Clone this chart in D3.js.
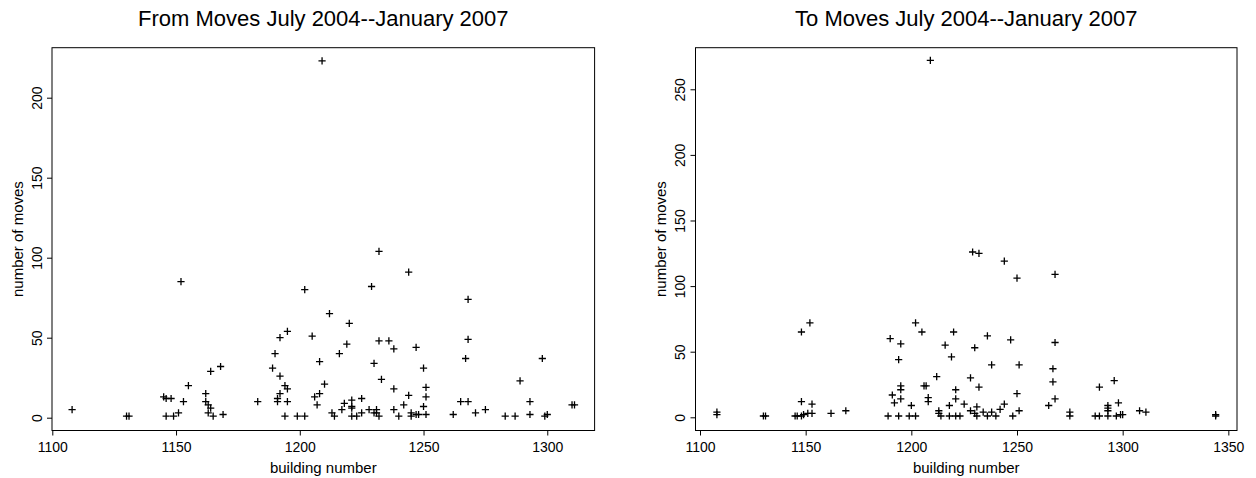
<!DOCTYPE html>
<html>
<head>
<meta charset="utf-8">
<script src="https://cdn.jsdelivr.net/npm/d3@7"></script>
<style>
  html, body { margin: 0; padding: 0; background: #fff; }
  svg { display: block; font-family: "Liberation Sans", Arial, Helvetica, sans-serif; }
</style>
</head>
<body>
<svg id="chart" width="1256" height="478"></svg>
<script>
// ---------- data ----------
const fromTitle = "From Moves July 2004--January 2007";
const toTitle = "To Moves July 2004--January 2007";
const xLabel = "building number";
const yLabel = "number of moves";

const fromBuilding = [1108,1130,1131,1145,1146,1148,1146,1149,1151,1152,1153,1155,1162,1162,1163,1164,1163,1165,1164,1168,1169,1183,1189,1190,1192,1195,1192,1194,1195,1192,1191,1191,1195,1194,1199,1202,1202,1205,1208,1206,1207,1208,1209,1212,1220,1219,1232,1236,1238,1247,1216,1230,1250,1233,1210,1238,1251,1244,1251,1218,1221,1225,1221,1221,1217,1213,1214,1221,1223,1225,1228,1231,1231,1230,1232,1238,1240,1242,1245,1245,1247,1248,1250,1251,1262,1265,1268,1267,1268,1268,1271,1275,1283,1287,1289,1293,1293,1298,1299,1300,1310,1311,1232,1244,1229];
const fromMoves    = [5,1,1,13,12,12,1,1,3,85,10,20,15,10,8,6,3,1,29,32,2,10,31,40,50,54,26,20,18,15,12,10,10,1,1,1,80,51,35,13,8,15,223,65,59,46,48,48,43,44,40,34,31,24,21,18,19,14,13,9,11,12,7,6,5,3,1,1,1,3,5,5,3,3,1,5,1,8,3,1,2,2,7,2,2,10,10,37,49,74,3,5,1,1,23,10,2,37,1,2,8,8,104,91,82];

const toBuilding = [1108,1108,1130,1131,1145,1146,1148,1149,1148,1152,1148,1153,1151,1153,1162,1169,1189,1190,1195,1194,1191,1192,1195,1195,1195,1194,1199,1202,1200,1202,1205,1206,1207,1208,1208,1212,1213,1213,1214,1216,1209,1229,1232,1244,1250,1268,1220,1219,1230,1236,1247,1268,1238,1251,1267,1267,1268,1265,1228,1232,1221,1221,1250,1218,1225,1244,1242,1218,1221,1223,1228,1231,1230,1231,1234,1236,1238,1240,1248,1251,1275,1275,1287,1289,1289,1296,1293,1293,1293,1293,1298,1297,1299,1300,1308,1311,1344,1344];
const toMoves    = [2,4,1,1,1,1,1,2,65,72,12,10,3,3,3,5,1,60,56,44,17,11,24,21,14,1,1,1,9,72,65,24,24,15,12,31,5,3,1,55,272,126,125,119,106,109,65,46,53,62,59,57,40,40,37,27,14,9,30,23,21,14,18,9,10,10,6,1,1,1,5,8,3,1,4,1,4,1,1,5,4,1,1,1,23,28,9,7,5,1,11,1,2,2,5,4,1,2];

const fromXTicks = [1100, 1150, 1200, 1250, 1300];
const fromYTicks = [0, 50, 100, 150, 200];
const toXTicks = [1100, 1150, 1200, 1250, 1300, 1350];
const toYTicks = [0, 50, 100, 150, 200, 250];

// ---------- drawing ----------
const svg = d3.select("#chart");

function panel(cfg) {
  const { xs, ys, bx, by, xTicks, yTicks, title } = cfg;
  const [left, right] = [cfg.x.range()[0], cfg.x.range()[1]];
  const [bottom, top] = [cfg.y.range()[0], cfg.y.range()[1]];
  const x = cfg.x, y = cfg.y;
  const g = svg.append("g");

  // title
  g.append("text")
    .attr("x", (left + right) / 2)
    .attr("y", 26)
    .attr("text-anchor", "middle")
    .attr("font-size", 22)
    .attr("fill", "#000")
    .text(title);

  // x axis
  const xa = g.append("g")
    .attr("transform", `translate(0,${bottom})`)
    .call(d3.axisBottom(x).tickValues(xTicks).tickSize(5).tickFormat(d3.format("d")));
  xa.select(".domain").remove();
  xa.selectAll("line").attr("stroke", "#000");
  xa.selectAll("text")
    .attr("y", 21).attr("dy", null)
    .attr("font-size", 14).attr("fill", "#000");

  // y axis
  const ya = g.append("g")
    .attr("transform", `translate(${left},0)`)
    .call(d3.axisLeft(y).tickValues(yTicks).tickSize(5).tickFormat(d3.format("d")));
  ya.select(".domain").remove();
  ya.selectAll("line").attr("stroke", "#000");
  ya.selectAll("text")
    .attr("x", 0).attr("y", -10.5).attr("dy", null)
    .attr("transform", "rotate(-90)")
    .attr("text-anchor", "middle")
    .attr("font-size", 14).attr("fill", "#000");

  // frame
  g.append("rect")
    .attr("x", left).attr("y", top)
    .attr("width", right - left).attr("height", bottom - top)
    .attr("fill", "none").attr("stroke", "#000").attr("stroke-width", 1);

  // axis labels
  g.append("text")
    .attr("x", (left + right) / 2)
    .attr("y", 473)
    .attr("text-anchor", "middle")
    .attr("font-size", 15)
    .text(xLabel);
  g.append("text")
    .attr("transform", `translate(${left - 29.5},${(top + bottom) / 2}) rotate(-90)`)
    .attr("text-anchor", "middle")
    .attr("font-size", 15)
    .text(yLabel);

  // points (pch = 3, plus)
  const pts = bx.map((b, i) => ({ b, m: by[i] }));
  const s = 3.6;
  g.append("g").selectAll("path")
    .data(pts)
    .join("path")
    .attr("d", d => {
      const cx = x(d.b), cy = y(d.m);
      return `M${cx - s},${cy}H${cx + s}M${cx},${cy - s}V${cy + s}`;
    })
    .attr("stroke", "#000")
    .attr("stroke-width", 1.3)
    .attr("fill", "none");
}

panel({
  x: d3.scaleLinear().domain([1099.88, 1319.12]).range([52, 594.6]),
  y: d3.scaleLinear().domain([-8, 231.25]).range([430.5, 47.7]),
  bx: fromBuilding, by: fromMoves,
  xTicks: fromXTicks, yTicks: fromYTicks, title: fromTitle
});

panel({
  x: d3.scaleLinear().domain([1097.87, 1354.1]).range([695.5, 1237]),
  y: d3.scaleLinear().domain([-10.06, 281.7]).range([430.5, 47.7]),
  bx: toBuilding, by: toMoves,
  xTicks: toXTicks, yTicks: toYTicks, title: toTitle
});
</script>
</body>
</html>
